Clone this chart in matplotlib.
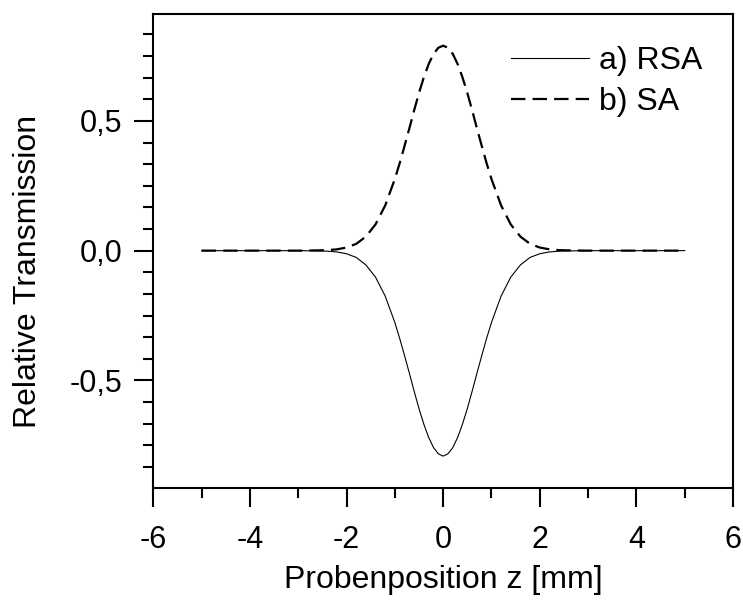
import matplotlib
matplotlib.use("Agg")
import matplotlib.pyplot as plt
from matplotlib.ticker import MultipleLocator, FuncFormatter

plt.rcParams['font.family'] = ['Liberation Sans', 'DejaVu Sans']

# Probe position z [mm]
z = [-5.0, -3.0, -2.6, -2.4, -2.2, -2.0, -1.8, -1.6, -1.4, -1.2, -1.0,
     -0.9, -0.8, -0.7, -0.6, -0.5, -0.4, -0.3, -0.2, -0.1, 0.0,
     0.1, 0.2, 0.3, 0.4, 0.5, 0.6, 0.7, 0.8, 0.9,
     1.0, 1.2, 1.4, 1.6, 1.8, 2.0, 2.2, 2.4, 2.6, 3.0, 5.0]

# a) reverse saturable absorption (closed-aperture dip)
rsa = [0.0, 0.0, -0.001, -0.002, -0.005, -0.012, -0.026, -0.055, -0.102, -0.175, -0.277,
       -0.338, -0.404, -0.472, -0.542, -0.609, -0.669, -0.720, -0.759, -0.783, -0.792,
       -0.783, -0.759, -0.720, -0.669, -0.609, -0.542, -0.472, -0.404, -0.338,
       -0.277, -0.175, -0.102, -0.055, -0.026, -0.012, -0.005, -0.002, -0.001, 0.0, 0.0]

# b) saturable absorption (peak)
sa = [0.0, 0.0, 0.001, 0.002, 0.005, 0.012, 0.026, 0.054, 0.101, 0.174, 0.276,
      0.337, 0.403, 0.471, 0.541, 0.608, 0.668, 0.719, 0.758, 0.782, 0.790,
      0.782, 0.758, 0.719, 0.668, 0.608, 0.541, 0.471, 0.403, 0.337,
      0.276, 0.174, 0.101, 0.054, 0.026, 0.012, 0.005, 0.002, 0.001, 0.0, 0.0]

labels = ["a) RSA", "b) SA"]

W, H = 743, 608
fig = plt.figure(figsize=(W / 100, H / 100), dpi=100)
left, right, top, bottom = 153.3, 733.0, 13.5, 488.3
ax = fig.add_axes([left / W, 1 - bottom / H, (right - left) / W, (bottom - top) / H])

ax.plot(z, rsa, color='black', lw=0.8, label=labels[0])
ax.plot(z, sa, color='black', lw=1.6, dashes=(6.5, 3.2), label=labels[1])

ax.set_xlim(-6, 6)
ax.set_ylim(-0.916, 0.914)

ax.xaxis.set_major_locator(MultipleLocator(2))
ax.xaxis.set_minor_locator(MultipleLocator(1))
ax.yaxis.set_major_locator(MultipleLocator(0.5))
ax.yaxis.set_minor_locator(MultipleLocator(0.5 / 6))

ax.xaxis.set_major_formatter(FuncFormatter(lambda v, p: f"{v:.0f}"))
ax.yaxis.set_major_formatter(FuncFormatter(lambda v, p: f"{v:.1f}".replace(".", ",") if abs(v) > 1e-9 else "0,0"))

for s in ax.spines.values():
    s.set_linewidth(1.5)

ax.tick_params(which='both', direction='out', width=1.5, top=False, right=False)
ax.tick_params(which='major', length=13.5, labelsize=22)
ax.tick_params(axis='x', which='major', pad=13)
ax.tick_params(axis='y', which='major', pad=9)
ax.tick_params(which='minor', length=7.2)

fig.text(28 / W, 1 - 271 / H, "Relative Transmission", rotation=90,
         ha='center', va='center', fontsize=23)
fig.text(443 / W, 1 - 580 / H, "Probenposition z [mm]",
         ha='center', va='center', fontsize=23)

leg = ax.legend(loc='upper left', bbox_to_anchor=((511 - left) / (right - left), (bottom - 46) / (bottom - top)),
                frameon=False, fontsize=23, handlelength=2.45, handletextpad=0.3,
                labelspacing=0.35, borderpad=0, borderaxespad=0)

fig.savefig("out.png", dpi=100)
